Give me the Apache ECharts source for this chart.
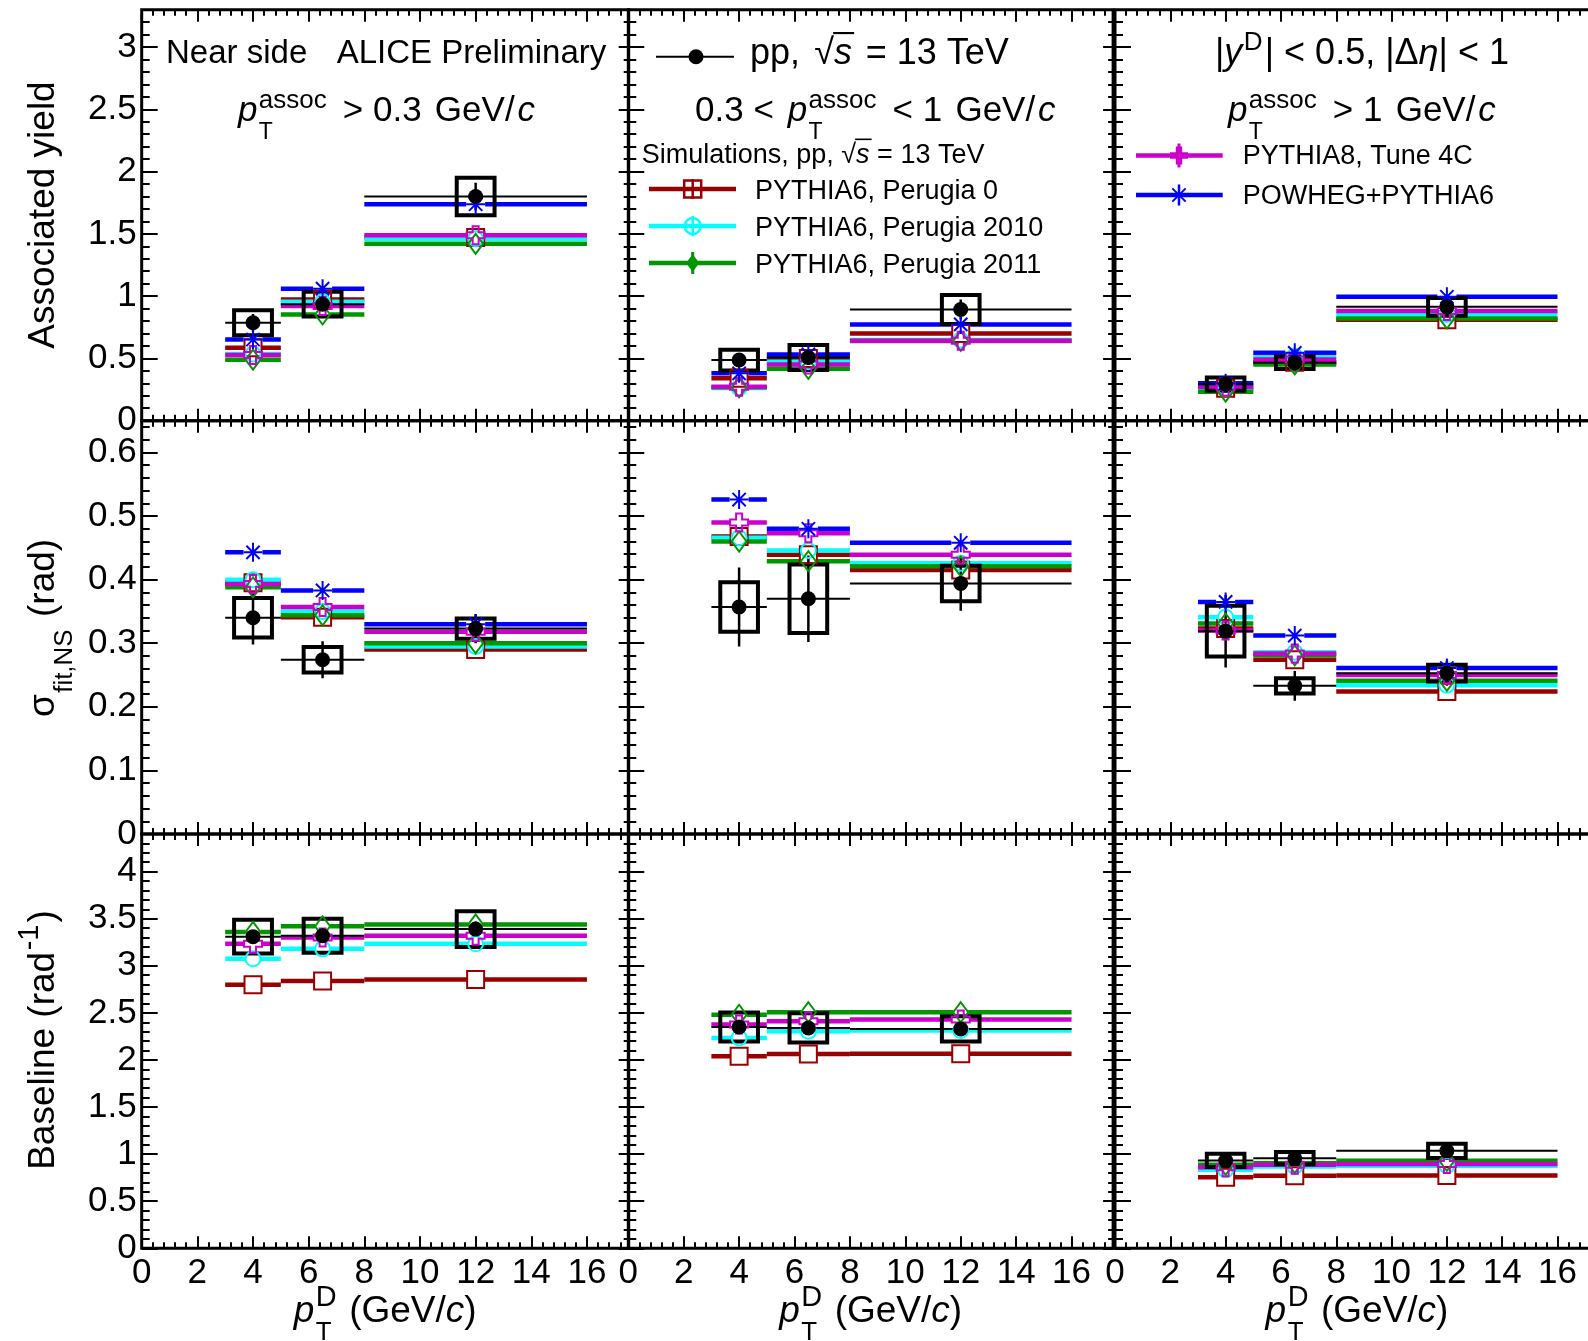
<!DOCTYPE html>
<html>
<head>
<meta charset="utf-8">
<script src="https://cdn.jsdelivr.net/npm/echarts@6.0.0/dist/echarts.min.js"></script>
<style>
html,body{margin:0;padding:0;background:#fff;}
#chart{width:1588px;height:1341px;}
</style>
</head>
<body>
<div id="chart"></div>
<script>
// ================= DATA =================
const binLow = [3, 5, 8];
const binHigh = [5, 8, 16];
const binCenter = [4, 6.5, 12];

const xTickStep = 2, xMinorStep = 0.4, xMax = 17.5, xLastLabel = 16;
const rowTickStep = [0.5, 0.1, 0.5];
const rowMinorStep = [0.1, 0.02, 0.1];
const rowMax = [3.3, 0.65, 4.4];

// Associated yield  [column (pT assoc range)][D-meson pT bin]
const yieldData   = [[0.786, 0.936, 1.80], [0.487, 0.508, 0.893], [0.294, 0.465, 0.914]];
const yieldStat   = [[0.07, 0.05, 0.11], [0.05, 0.06, 0.08], [0.02, 0.02, 0.04]];
const yieldSys    = [[0.10, 0.10, 0.15], [0.083, 0.10, 0.116], [0.053, 0.05, 0.072]];
const yieldP0     = [[0.586, 0.973, 1.47], [0.34, 0.50, 0.70], [0.26, 0.47, 0.81]];
const yieldP2010  = [[0.535, 0.955, 1.46], [0.262, 0.473, 0.647], [0.26, 0.519, 0.853]];
const yieldP2011  = [[0.49, 0.853, 1.42], [0.268, 0.417, 0.64], [0.233, 0.452, 0.82]];
const yieldP8     = [[0.527, 0.92, 1.49], [0.273, 0.452, 0.642], [0.273, 0.492, 0.88]];
const yieldPowheg = [[0.652, 1.06, 1.738], [0.38, 0.532, 0.773], [0.30, 0.545, 0.995]];

// Near-side width sigma_fit,NS (rad)
const sigmaData   = [[0.340, 0.274, 0.323], [0.357, 0.370, 0.394], [0.319, 0.233, 0.253]];
const sigmaStat   = [[0.042, 0.029, 0.023], [0.062, 0.068, 0.043], [0.057, 0.0235, 0.02]];
const sigmaSys    = [[0.031, 0.020, 0.016], [0.039, 0.054, 0.028], [0.040, 0.012, 0.013]];
const sigmaP0     = [[0.395, 0.341, 0.290], [0.468, 0.439, 0.415], [0.323, 0.274, 0.224]];
const sigmaP2010  = [[0.400, 0.350, 0.295], [0.466, 0.446, 0.426], [0.341, 0.286, 0.234]];
const sigmaP2011  = [[0.388, 0.344, 0.300], [0.460, 0.429, 0.421], [0.331, 0.281, 0.241]];
const sigmaP8     = [[0.393, 0.357, 0.318], [0.490, 0.473, 0.439], [0.320, 0.284, 0.250]];
const sigmaPowheg = [[0.443, 0.383, 0.330], [0.526, 0.480, 0.458], [0.365, 0.312, 0.261]];

// Baseline (rad^-1)
const baseData    = [[3.31, 3.32, 3.39], [2.35, 2.34, 2.33], [0.933, 0.957, 1.035]];
const baseStat    = [[0.06, 0.06, 0.08], [0.05, 0.05, 0.06], [0.03, 0.03, 0.04]];
const baseSys     = [[0.18, 0.18, 0.19], [0.155, 0.155, 0.135], [0.07, 0.065, 0.076]];
const baseP0      = [[2.80, 2.84, 2.855], [2.04, 2.064, 2.067], [0.755, 0.77, 0.773]];
const baseP2010   = [[3.074, 3.18, 3.234], [2.234, 2.305, 2.312], [0.833, 0.869, 0.876]];
const baseP2011   = [[3.36, 3.42, 3.44], [2.48, 2.507, 2.507], [0.887, 0.904, 0.929]];
const baseP8      = [[3.234, 3.30, 3.32], [2.376, 2.411, 2.43], [0.862, 0.887, 0.894]];
const basePowheg  = null;

// ================= STYLE / LAYOUT =================
const FONT = '"Liberation Sans", Arial, Helvetica, sans-serif';
const colLeft = [141.7, 628.3, 1115];
const colWidth = [487, 484.8, 484];
const rowTop = [9.7, 420.7, 834];
const rowHeight = [411, 413.3, 414.3];
const boxHalf = 0.68;

const rowsData = [yieldData, sigmaData, baseData];
const rowsStat = [yieldStat, sigmaStat, baseStat];
const rowsSys = [yieldSys, sigmaSys, baseSys];

const CROSS = 'path://M3,0L6,0L6,3L9,3L9,6L6,6L6,9L3,9L3,6L0,6L0,3L3,3Z';
const STAR = 'path://M0,5L10,5M5,0L5,10M1.5,1.5L8.5,8.5M8.5,1.5L1.5,8.5';
const models = [
  {name:'PYTHIA6, Perugia 0', color:'#990000', symbol:'rect', size:17, gap:8.5, rows:[yieldP0, sigmaP0, baseP0]},
  {name:'PYTHIA6, Perugia 2010', color:'#00ffff', symbol:'circle', size:15, gap:7.5, rows:[yieldP2010, sigmaP2010, baseP2010]},
  {name:'PYTHIA6, Perugia 2011', color:'#009600', symbol:'diamond', size:[15,20], gap:7.5, rows:[yieldP2011, sigmaP2011, baseP2011]},
  {name:'PYTHIA8, Tune 4C', color:'#cc00cc', symbol:CROSS, size:18, gap:9, rows:[yieldP8, sigmaP8, baseP8]},
  {name:'POWHEG+PYTHIA6', color:'#0000ff', symbol:STAR, size:19, gap:9.5, rows:[yieldPowheg, sigmaPowheg, basePowheg]}
];

function fmt(step, maxLab) {
  return function (v) {
    const k = v / step;
    if (Math.abs(k - Math.round(k)) > 1e-6 || v > maxLab + 1e-9) return '';
    return String(parseFloat(v.toFixed(3)));
  };
}

function modelRender(color, gap, lw) {
  return function (params, api) {
    const lo = api.value(0), hi = api.value(1), xc = api.value(2), y = api.value(3);
    const a = api.coord([lo, y]), b = api.coord([hi, y]), m = api.coord([xc, y]);
    return {type:'group', children:[
      {type:'line', shape:{x1:a[0], y1:a[1], x2:m[0]-gap, y2:m[1]}, style:{stroke:color, lineWidth:lw}},
      {type:'line', shape:{x1:m[0]+gap, y1:m[1], x2:b[0], y2:b[1]}, style:{stroke:color, lineWidth:lw}}
    ]};
  };
}

function dataRender(params, api) {
  const lo = api.value(0), hi = api.value(1), xc = api.value(2), y = api.value(3);
  const st = api.value(4), sy = api.value(5);
  const a = api.coord([lo, y]), b = api.coord([hi, y]);
  const t = api.coord([xc, y + st]), bt = api.coord([xc, y - st]);
  const p1 = api.coord([xc - boxHalf, y + sy]), p2 = api.coord([xc + boxHalf, y - sy]);
  return {type:'group', children:[
    {type:'line', shape:{x1:a[0], y1:a[1], x2:b[0], y2:b[1]}, style:{stroke:'#000', lineWidth:2}},
    {type:'line', shape:{x1:t[0], y1:t[1], x2:bt[0], y2:bt[1]}, style:{stroke:'#000', lineWidth:2.5}},
    {type:'rect', shape:{x:p1[0], y:p1[1], width:p2[0]-p1[0], height:p2[1]-p1[1]},
     style:{fill:'rgba(0,0,0,0)', stroke:'#000', lineWidth:4}}
  ]};
}

const grids = [], xAxes = [], yAxes = [], series = [];
for (let r = 0; r < 3; r++) {
  for (let c = 0; c < 3; c++) {
    const g = grids.length;
    grids.push({left:colLeft[c], top:rowTop[r], width:colWidth[c], height:rowHeight[r],
      outerBoundsMode:'none', containLabel:false,
      show:true, borderColor:'#000', borderWidth:3, backgroundColor:'rgba(0,0,0,0)'});
    const xi = xAxes.length, yi = yAxes.length;
    [['bottom', xTickStep, 12, r === 2], ['bottom', xMinorStep, 6, false],
     ['top', xTickStep, 12, false], ['top', xMinorStep, 6, false]].forEach(function (d) {
      xAxes.push({type:'value', gridIndex:g, position:d[0], min:0, max:xMax, interval:d[1],
        axisLine:{show:false, onZero:false}, splitLine:{show:false},
        axisTick:{show:true, inside:true, length:d[2], lineStyle:{color:'#000', width:2}},
        axisLabel:{show:d[3], formatter:fmt(xTickStep, xLastLabel), fontFamily:FONT, fontSize:35, color:'#000', margin:8}});
    });
    [['left', rowTickStep[r], 16, c === 0], ['left', rowMinorStep[r], 8, false],
     ['right', rowTickStep[r], 10, false], ['right', rowMinorStep[r], 5, false]].forEach(function (d) {
      yAxes.push({type:'value', gridIndex:g, position:d[0], min:0, max:rowMax[r], interval:d[1],
        axisLine:{show:false, onZero:false}, splitLine:{show:false},
        axisTick:{show:true, inside:true, length:d[2], lineStyle:{color:'#000', width:2}},
        axisLabel:{show:d[3], formatter:fmt(rowTickStep[r], rowMax[r] - rowTickStep[r] * 0.5),
          fontFamily:FONT, fontSize:35, color:'#000', margin:5, padding:[4, 0, 0, 0]}});
    });
    models.forEach(function (m) {
      const vals = m.rows[r];
      if (!vals) return;
      const d = vals[c].map(function (v, i) { return [binLow[i], binHigh[i], binCenter[i], v]; });
      series.push({type:'custom', xAxisIndex:xi, yAxisIndex:yi, data:d, encode:{x:[0,1,2], y:3},
        clip:true, silent:true, renderItem:modelRender(m.color, m.gap, 4.5)});
      series.push({type:'scatter', xAxisIndex:xi, yAxisIndex:yi, silent:true, clip:true,
        data:d.map(function (e) { return [e[2], e[3]]; }),
        symbol:m.symbol, symbolSize:m.size,
        itemStyle:{color:'rgba(255,255,255,0)', borderColor:m.color, borderWidth:2, opacity:1}});
    });
    const dd = rowsData[r][c].map(function (v, i) {
      return [binLow[i], binHigh[i], binCenter[i], v, rowsStat[r][c][i], rowsSys[r][c][i]];
    });
    series.push({type:'custom', xAxisIndex:xi, yAxisIndex:yi, data:dd, encode:{x:[0,1,2], y:3},
      clip:true, silent:true, renderItem:dataRender});
    series.push({type:'scatter', xAxisIndex:xi, yAxisIndex:yi, silent:true, clip:true,
      data:dd.map(function (e) { return [e[2], e[3]]; }),
      symbol:'circle', symbolSize:15, itemStyle:{color:'#000', opacity:1}});
  }
}

// ================= TEXT HELPERS =================
const mctx = document.createElement('canvas').getContext('2d');
const MID = 0.25; // em-middle offset above the baseline as rendered
function fontStr(s, it) { return (it ? 'italic ' : '') + s + 'px ' + FONT; }
function measure(t, s, it) { mctx.font = fontStr(s, it); return mctx.measureText(t).width; }
function txt(t, x, by, s, it) {
  return {type:'text', x:x, y:by - MID * s, silent:true,
    style:{text:t, fill:'#000', font:fontStr(s, it), align:'left', verticalAlign:'middle'}};
}
// builds pieces with baseline at local y=0, starting at local x=0
function buildMath(pieces, S, o) {
  o = o || {};
  const supS = o.supS || 0.78 * S, subS = o.subS || 0.7 * S;
  const supDy = o.supDy !== undefined ? o.supDy : -0.42 * S;
  const subDy = o.subDy !== undefined ? o.subDy : 0.5 * S;
  let x = 0; const ch = [];
  pieces.forEach(function (p) {
    if (p.gap !== undefined) { x += p.gap * S; return; }
    if (p.sup !== undefined || p.sub !== undefined) {
      let w = 0;
      x += 0.04 * S;
      if (p.sup !== undefined) {
        ch.push(txt(p.sup, x, supDy, supS, false)); w = Math.max(w, measure(p.sup, supS, false));
      }
      if (p.sub !== undefined) {
        ch.push(txt(p.sub, x, subDy, subS, false)); w = Math.max(w, measure(p.sub, subS, false));
      }
      x += w + 0.06 * S;
    } else {
      ch.push(txt(p.t, x, 0, S, p.it));
      const w = measure(p.t, S, p.it);
      if (p.over) {
        ch.push({type:'line', silent:true, shape:{x1:x - 1, y1:-0.84 * S, x2:x + w + 2, y2:-0.84 * S},
          style:{stroke:'#000', lineWidth:Math.max(1.5, 0.06 * S)}});
      }
      x += w;
    }
  });
  return {ch:ch, w:x};
}
function mathGroup(pieces, S, x, baseline, align, o) {
  const m = buildMath(pieces, S, o);
  const x0 = align === 'center' ? x - m.w / 2 : x;
  return {type:'group', x:x0, y:baseline, children:m.ch, silent:true};
}
function mathVertical(pieces, S, xBase, yCenter) {
  const m = buildMath(pieces, S);
  m.ch.forEach(function (e) {
    if (e.type === 'text') e.x -= m.w / 2;
    else { e.shape.x1 -= m.w / 2; e.shape.x2 -= m.w / 2; }
  });
  return {type:'group', x:xBase, y:yCenter, rotation:Math.PI / 2, children:m.ch, silent:true};
}

const graphics = [];
const assocOpt = {supS:26, subS:23, supDy:-13, subDy:18};
// panel annotations
graphics.push(mathGroup([{t:'Near side'}], 33, 166, 62));
graphics.push(mathGroup([{t:'ALICE Preliminary'}], 33, 336.7, 62));
graphics.push(mathGroup([{t:'p', it:true}, {sup:'assoc', sub:'T'}, {gap:0.12}, {t:' > 0.3 '}, {gap:0.1}, {t:'GeV/'}, {gap:0.08}, {t:'c', it:true}], 35, 238, 120, 'left', assocOpt));
graphics.push(mathGroup([{t:'pp, '}, {gap:0.12}, {t:'√'}, {t:'s', it:true, over:true}, {gap:0.1}, {t:' = 13 TeV'}], 36, 750, 63.3));
graphics.push(mathGroup([{t:'0.3 < '}, {gap:0.12}, {t:'p', it:true}, {sup:'assoc', sub:'T'}, {gap:0.12}, {t:' < 1 '}, {gap:0.1}, {t:'GeV/'}, {gap:0.08}, {t:'c', it:true}], 35, 695, 120, 'left', assocOpt));
graphics.push(mathGroup([{t:'Simulations, pp, √'}, {t:'s', it:true, over:true}, {t:' = 13 TeV'}], 27, 641.7, 162));
graphics.push(mathGroup([{t:'|'}, {t:'y', it:true}, {sup:'D'}, {t:'| < 0.5, |Δ'}, {t:'η', it:true}, {t:'| < 1'}], 36, 1215, 63.3, 'left', {supS:26, supDy:-14}));
graphics.push(mathGroup([{t:'p', it:true}, {sup:'assoc', sub:'T'}, {gap:0.12}, {t:' > 1 '}, {gap:0.1}, {t:'GeV/'}, {gap:0.08}, {t:'c', it:true}], 35, 1228, 120, 'left', assocOpt));

// axis titles
[0, 1, 2].forEach(function (c) {
  graphics.push(mathGroup([{t:'p', it:true}, {sup:'D', sub:'T'}, {t:' (GeV/'}, {t:'c', it:true}, {t:')'}], 37,
    colLeft[c] + colWidth[c] / 2, 1321, 'center'));
});
graphics.push(mathVertical([{t:'Associated yield'}], 37, 53, 215));
graphics.push(mathVertical([{t:'σ'}, {sub:'fit,NS'}, {t:' (rad)'}], 37, 53, 628));
graphics.push(mathVertical([{t:'Baseline (rad'}, {sup:'-1'}, {t:')'}], 37, 53, 1040));

// legends
function hline(x1, x2, y, color, lw) { return {type:'line', silent:true, shape:{x1:x1, y1:y, x2:x2, y2:y}, style:{stroke:color, lineWidth:lw}}; }
function vline(x, y1, y2, color, lw) { return {type:'line', silent:true, shape:{x1:x, y1:y1, x2:x, y2:y2}, style:{stroke:color, lineWidth:lw}}; }
function legendText(t, x, y) {
  return {type:'text', x:x, y:y + 2.5, silent:true, style:{text:t, fill:'#000', font:fontStr(27, false), align:'left', verticalAlign:'middle'}};
}
// data entry
graphics.push(hline(656, 734, 56.7, '#000', 2));
graphics.push({type:'circle', silent:true, shape:{cx:696, cy:56.7, r:7.5}, style:{fill:'#000'}});
// Perugia 0
(function () {
  const m = models[0], y = 189, cx = 692.7;
  graphics.push(hline(649, 736, y, m.color, 4.5));
  graphics.push(vline(cx, y - 10, y + 10, m.color, 2.5));
  graphics.push({type:'rect', silent:true, shape:{x:cx - 8.5, y:y - 8.5, width:17, height:17}, style:{fill:'rgba(0,0,0,0)', stroke:m.color, lineWidth:2.5}});
  graphics.push(legendText(m.name, 755, y));
})();
// Perugia 2010
(function () {
  const m = models[1], y = 226, cx = 692.7;
  graphics.push(hline(649, 736, y, m.color, 4.5));
  graphics.push(vline(cx, y - 10, y + 10, m.color, 2.5));
  graphics.push({type:'circle', silent:true, shape:{cx:cx, cy:y, r:8}, style:{fill:'rgba(0,0,0,0)', stroke:m.color, lineWidth:2.5}});
  graphics.push(legendText(m.name, 755, y));
})();
// Perugia 2011
(function () {
  const m = models[2], y = 263, cx = 692.7;
  graphics.push(hline(649, 736, y, m.color, 4.5));
  graphics.push(vline(cx, y - 11, y + 11, m.color, 3));
  graphics.push({type:'polygon', silent:true, shape:{points:[[cx, y - 9], [cx + 6.5, y], [cx, y + 9], [cx - 6.5, y]]}, style:{fill:m.color}});
  graphics.push(legendText(m.name, 755, y));
})();
// PYTHIA8
(function () {
  const m = models[3], y = 155.5, cx = 1179, h = 9, a = 3.2;
  graphics.push(hline(1136, 1222.7, y, m.color, 4.5));
  graphics.push(vline(cx, y - 12, y + 12, m.color, 3));
  graphics.push({type:'polygon', silent:true, shape:{points:[[cx - a, y - h], [cx + a, y - h], [cx + a, y - a], [cx + h, y - a], [cx + h, y + a], [cx + a, y + a], [cx + a, y + h], [cx - a, y + h], [cx - a, y + a], [cx - h, y + a], [cx - h, y - a], [cx - a, y - a]]}, style:{fill:m.color}});
  graphics.push(legendText(m.name, 1242.7, y - 1));
})();
// POWHEG
(function () {
  const m = models[4], y = 195, cx = 1179, h = 9.5;
  graphics.push(hline(1136, 1222.7, y, m.color, 4.5));
  graphics.push(vline(cx, y - h - 1, y + h + 1, m.color, 2.5));
  graphics.push(hline(cx - h, cx + h, y, m.color, 2));
  graphics.push({type:'line', silent:true, shape:{x1:cx - h * 0.7, y1:y - h * 0.7, x2:cx + h * 0.7, y2:y + h * 0.7}, style:{stroke:m.color, lineWidth:2}});
  graphics.push({type:'line', silent:true, shape:{x1:cx + h * 0.7, y1:y - h * 0.7, x2:cx - h * 0.7, y2:y + h * 0.7}, style:{stroke:m.color, lineWidth:2}});
  graphics.push(legendText(m.name, 1242.7, y - 1));
})();

const chart = echarts.init(document.getElementById('chart'), null, {renderer:'canvas', width:1588, height:1341});
chart.setOption({
  animation:false,
  backgroundColor:'#fff',
  grid:grids,
  xAxis:xAxes,
  yAxis:yAxes,
  series:series,
  graphic:graphics
});
</script>
</body>
</html>
